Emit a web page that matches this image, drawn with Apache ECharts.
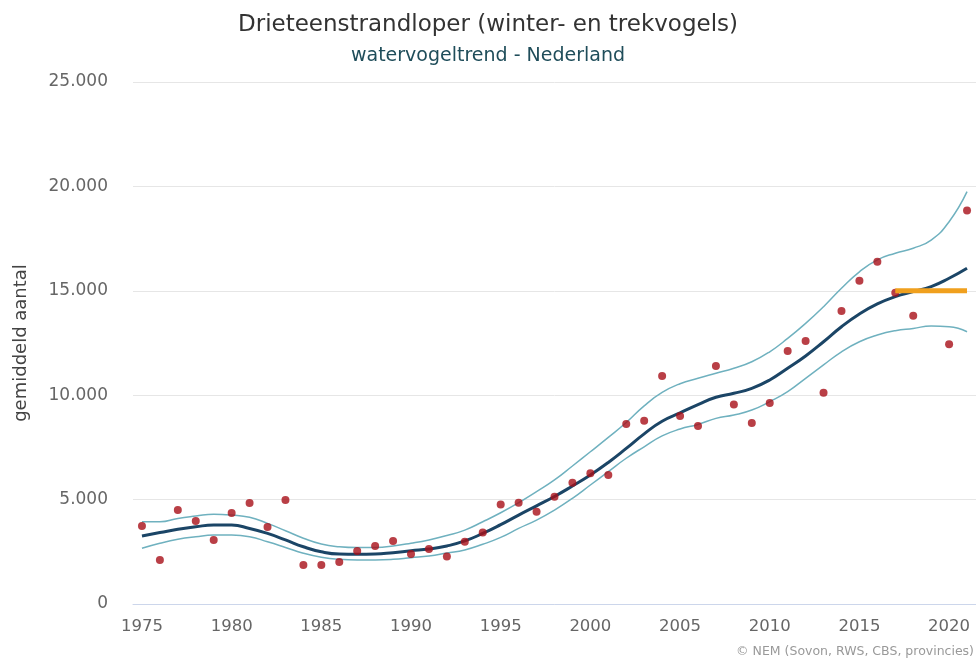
<!DOCTYPE html>
<html>
<head>
<meta charset="utf-8">
<script src="https://cdn.jsdelivr.net/npm/echarts@6/dist/echarts.min.js"></script>
<style>
  html, body { margin: 0; padding: 0; background: #fff; }
  #chart { width: 976px; height: 661px; }
</style>
</head>
<body>
<div id="chart"></div>
<script>
const years = [];
for (let y = 1975; y <= 2021; y++) years.push(String(y));

// jaarlijkse gemiddelde aantallen (punten); 2019 niet zichtbaar
const counts = [3740, 2110, 4500, 3980, 3070, 4360, 4840, 3690, 4980, 1870,
  1870, 2010, 2540, 2780, 3020, 2400, 2630, 2270, 2980, 3420,
  4770, 4850, 4420, 5140, 5810, 6260, 6180, 8620, 8780, 10920,
  9000, 8520, 11400, 9560, 8670, 9630, 12120, 12600, 10120, 14030,
  15480, 16390, 14910, 13810, null, 12440, 18840];

const trend = [3260, 3420, 3580, 3700, 3780, 3780, 3620, 3380, 3070, 2740,
  2500, 2390, 2380, 2390, 2460, 2550, 2630, 2780, 3020, 3380,
  3800, 4260, 4700, 5150, 5650, 6180, 6780, 7450, 8150, 8750,
  9150, 9550, 9900, 10090, 10330, 10730, 11290, 11880, 12560, 13280,
  13890, 14370, 14720, 14960, 15200, 15600, 16080];

const upper = [3940, 3940, 4100, 4210, 4300, 4260, 4150, 3860, 3510, 3150,
  2870, 2740, 2700, 2710, 2780, 2910, 3070, 3280, 3540, 3940,
  4370, 4850, 5380, 5940, 6610, 7290, 7980, 8690, 9490, 10130,
  10550, 10810, 11050, 11290, 11600, 12080, 12720, 13440, 14240, 15120,
  15910, 16480, 16800, 17040, 17430, 18310, 19750];

const lower = [2670, 2910, 3100, 3220, 3300, 3300, 3220, 2980, 2710, 2430,
  2240, 2140, 2110, 2110, 2140, 2220, 2300, 2440, 2590, 2860,
  3190, 3620, 4020, 4500, 5060, 5700, 6340, 6980, 7530, 8050,
  8380, 8600, 8890, 9050, 9290, 9690, 10170, 10810, 11450, 12080,
  12560, 12880, 13090, 13200, 13310, 13280, 13040];

// referentieniveau 2017-2021
const refYears = ['2017', '2018', '2019', '2020', '2021'];
const refLevel = [15000, 15000, 15000, 15000, 15000];

const FONT = 'DejaVu Sans';
const chart = echarts.init(document.getElementById('chart'));

const fmt = (v) => String(v).replace(/\B(?=(\d{3})+(?!\d))/g, '.');

const refData = years.map((y) => {
  const i = refYears.indexOf(y);
  return i >= 0 ? refLevel[i] : null;
});

chart.setOption({
  animation: false,
  backgroundColor: '#fff',
  title: [
    {
      text: 'Drieteenstrandloper (winter- en trekvogels)',
      left: 'center',
      top: 9,
      textStyle: { fontFamily: FONT, fontSize: 23, fontWeight: 'normal', color: '#333' },
    },
    {
      text: 'watervogeltrend - Nederland',
      left: 'center',
      top: 42,
      textStyle: { fontFamily: FONT, fontSize: 19, fontWeight: 'normal', color: '#1f4d5a' },
    },
  ],
  graphic: [{
    type: 'text',
    right: 2,
    bottom: 3,
    style: {
      text: '© NEM (Sovon, RWS, CBS, provincies)',
      fontFamily: FONT,
      fontSize: 12.5,
      fill: '#999',
    },
  }],
  grid: { left: 133, right: 0, top: 82, bottom: 57 },
  xAxis: {
    type: 'category',
    data: years,
    boundaryGap: true,
    axisLine: { lineStyle: { color: '#ccd6eb' } },
    axisTick: { interval: 4, alignWithLabel: true, length: 10, lineStyle: { color: '#ccd6eb' } },
    axisLabel: { interval: 4, margin: 14, fontFamily: FONT, fontSize: 16.5, color: '#666' },
    splitLine: { show: false },
  },
  yAxis: {
    type: 'value',
    min: 0,
    max: 25000,
    interval: 5000,
    name: 'gemiddeld aantal',
    nameLocation: 'middle',
    nameGap: 103,
    nameTextStyle: { fontFamily: FONT, fontSize: 18, color: '#444' },
    axisLine: { show: false },
    axisTick: { show: false },
    axisLabel: { margin: 25, fontFamily: FONT, fontSize: 17, color: '#666', formatter: fmt },
    splitLine: { lineStyle: { color: '#e6e6e6' } },
  },
  series: [
    {
      name: 'bovengrens',
      type: 'line',
      data: upper,
      smooth: true,
      showSymbol: false,
      lineStyle: { color: '#6fb1bf', width: 1.5 },
      z: 2,
    },
    {
      name: 'ondergrens',
      type: 'line',
      data: lower,
      smooth: true,
      showSymbol: false,
      lineStyle: { color: '#6fb1bf', width: 1.5 },
      z: 2,
    },
    {
      name: 'trend',
      type: 'line',
      data: trend,
      smooth: true,
      showSymbol: false,
      lineStyle: { color: '#1b4566', width: 3 },
      z: 3,
    },
    {
      name: 'telling',
      type: 'scatter',
      data: counts,
      symbolSize: 8,
      itemStyle: { color: '#a80f18' },
      z: 4,
    },
    {
      name: 'referentie',
      type: 'line',
      data: refData,
      showSymbol: false,
      lineStyle: { color: '#f0a01e', width: 5 },
      z: 5,
    },
  ],
});
</script>
</body>
</html>
